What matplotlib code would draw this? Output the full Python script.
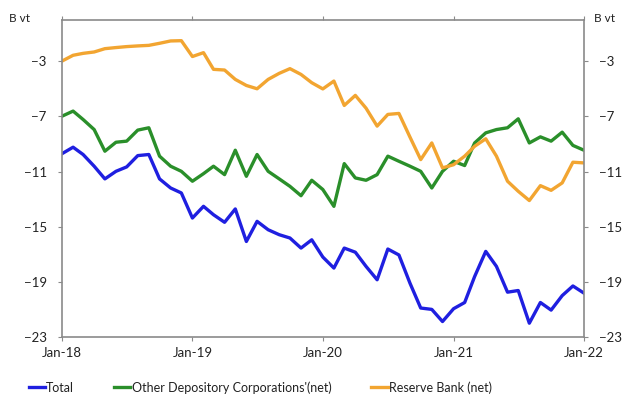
import matplotlib
matplotlib.use('Agg')
import matplotlib.pyplot as plt
import matplotlib.dates as mdates
import pandas as pd

plt.rcParams['font.family'] = ['Lato', 'DejaVu Sans']

months = pd.date_range('2018-01-01', periods=49, freq='MS')

total = [-9.70, -9.23, -9.76, -10.61, -11.53, -10.98, -10.66, -9.84, -9.76, -11.53,
         -12.19, -12.55, -14.37, -13.52, -14.13, -14.68, -13.71, -16.07, -14.61, -15.22,
         -15.58, -15.82, -16.55, -15.95, -17.20, -18.00, -16.55, -16.85, -17.88, -18.85,
         -16.62, -17.05, -19.10, -20.90, -21.00, -21.88, -20.95, -20.50, -18.61, -16.79,
         -17.88, -19.75, -19.63, -22.00, -20.50, -21.05, -20.00, -19.30, -19.82]

odc = [-6.98, -6.61, -7.22, -7.95, -9.52, -8.87, -8.79, -7.99, -7.82, -9.88,
       -10.61, -10.98, -11.70, -11.15, -10.61, -11.22, -9.45, -11.34, -9.76, -10.98,
       -11.53, -12.07, -12.75, -11.63, -12.30, -13.52, -10.42, -11.46, -11.63, -11.22,
       -9.88, -10.25, -10.61, -10.98, -12.19, -10.98, -10.25, -10.56, -8.92, -8.19,
       -7.95, -7.82, -7.17, -8.92, -8.48, -8.79, -8.14, -9.10, -9.45]

reserve_bank = [-2.98, -2.56, -2.42, -2.32, -2.08, -2.00, -1.93, -1.88, -1.84, -1.69,
                -1.52, -1.50, -2.65, -2.37, -3.58, -3.63, -4.31, -4.75, -4.99, -4.31,
                -3.87, -3.53, -3.95, -4.55, -5.00, -4.43, -6.20, -5.47, -6.40, -7.70,
                -6.85, -6.78, -8.50, -10.13, -8.92, -10.73, -10.50, -9.88, -9.16, -8.62,
                -9.88, -11.70, -12.43, -13.10, -12.02, -12.36, -11.82, -10.32, -10.37]

y_ticks = [-3, -7, -11, -15, -19, -23]
x_ticks = pd.to_datetime(['2018-01-01', '2019-01-01', '2020-01-01', '2021-01-01', '2022-01-01'])

fig = plt.figure(figsize=(6.27, 4.05), dpi=100)
ax = fig.add_axes([0.0989, 0.168, 0.8325, 0.7826])

ax.plot(months, total, color='#1f1fe0', lw=2.4, label='Total')
ax.plot(months, odc, color='#2a8f2a', lw=2.4, label="Other Depository Corporations'(net)")
ax.plot(months, reserve_bank, color='#f2a531', lw=2.4, label='Reserve Bank (net)')

ax.set_ylim(-23, 0)
ax.set_xlim(months[0], months[-1])
ax.set_yticks(y_ticks)
ax.set_xticks(x_ticks)
ax.xaxis.set_major_formatter(mdates.DateFormatter('%b-%y'))

for s in ax.spines.values():
    s.set_color('#8a8a8a')
    s.set_linewidth(1.2)

ax.tick_params(axis='y', left=True, right=True, labelleft=True, labelright=True,
               direction='out', length=3, color='#8a8a8a', labelsize=9.5, pad=8,
               labelcolor='#222222')
ax.tick_params(axis='x', top=True, bottom=True, direction='out', length=3,
               color='#8a8a8a', labelsize=9.5, pad=4, labelcolor='#222222')

fig.text(0.015, 0.955, 'B vt', fontsize=8.5, ha='left', va='center', color='#222222')
fig.text(0.948, 0.955, 'B vt', fontsize=8.5, ha='left', va='center', color='#222222')

fig.legend(loc='lower center', bbox_to_anchor=(0.415, 0.0), ncol=3, frameon=False,
           fontsize=9, handlelength=1.3, handletextpad=0.1, columnspacing=3.2,
           labelcolor='#222222')

fig.savefig('out.png', dpi=100)
